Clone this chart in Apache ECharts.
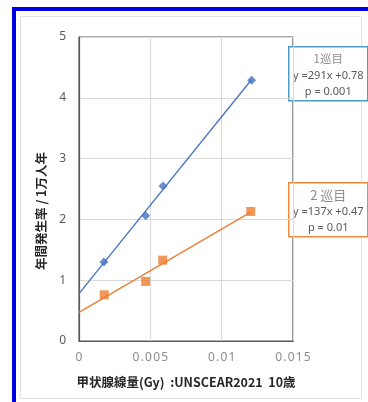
<!DOCTYPE html>
<html>
<head>
<meta charset="utf-8">
<script src="https://cdn.jsdelivr.net/npm/echarts@6/dist/echarts.min.js"></script>
<style>
  html, body { margin: 0; padding: 0; background: #fff; }
  #chart { width: 368px; height: 402px; }
</style>
</head>
<body>
<div id="chart"></div>
<script>
// Thyroid dose (Gy) vs. annual incidence per 10,000 person-years
const round1Dose = [0.00175, 0.00467, 0.00589, 0.0121];
const round1Rate = [1.30, 2.06, 2.55, 4.29];
const round2Dose = [0.00177, 0.00467, 0.00587, 0.01204];
const round2Rate = [0.76, 0.98, 1.33, 2.13];

// Regression results shown in the boxes
const fitSlope = [291, 137];
const fitIntercept = [0.78, 0.47];
const fitP = ['0.001', '0.01'];
const roundNames = ['1巡目', '2 巡目'];

const xTicks = ['0', '0.005', '0.01', '0.015'];
const yTicks = [0, 1, 2, 3, 4, 5];

const blue = '#4472C4';
const orange = '#ED7D31';
const cjk = '"Noto Sans CJK JP", "Noto Sans", sans-serif';
const latin = '"Noto Sans", "Noto Sans CJK JP", sans-serif';

function pairs(xs, ys) { return xs.map((x, i) => [x, ys[i]]); }
function fitLine(k, xs) {
  const xEnd = Math.max.apply(null, xs);
  return [[0, fitIntercept[k]], [xEnd, fitSlope[k] * xEnd + fitIntercept[k]]];
}

function infoBox(k, top, border) {
  const left = 288, w = 79, h = 54;
  return {
    type: 'group',
    left: left, top: top,
    children: [
      { type: 'rect', shape: { x: 0, y: 0, width: w, height: h },
        style: { fill: '#fff', stroke: border, lineWidth: 1.5 } },
      { type: 'text', x: w / 2, y: 12,
        style: { text: roundNames[k], fill: '#8c8c8c', font: (k === 0 ? '11.5px ' : '13px ') + cjk,
                 align: 'center', verticalAlign: 'middle' } },
      { type: 'text', x: w / 2, y: 29,
        style: { text: 'y =' + fitSlope[k] + 'x +' + fitIntercept[k], fill: '#595959', font: '11px ' + latin,
                 align: 'center', verticalAlign: 'middle' } },
      { type: 'text', x: w / 2, y: 45,
        style: { text: 'p = ' + fitP[k], fill: '#595959', font: '11px ' + latin,
                 align: 'center', verticalAlign: 'middle' } }
    ]
  };
}

const chart = echarts.init(document.getElementById('chart'), null, { renderer: 'canvas' });
chart.setOption({
  animation: false,
  backgroundColor: '#fff',
  grid: {
    left: 79, right: 75, top: 37, bottom: 61,
    show: true, borderColor: '#595959', borderWidth: 1.2, backgroundColor: 'transparent'
  },
  xAxis: {
    type: 'value', min: 0, max: 0.015, interval: 0.005,
    axisLine: { show: true, onZero: false, lineStyle: { color: '#595959', width: 1.2 } },
    axisTick: { show: false },
    splitLine: { show: true, lineStyle: { color: '#d9d9d9', width: 1 } },
    axisLabel: {
      color: '#8c8c8c', fontSize: 12, fontFamily: latin, margin: 11,
      formatter: (v) => xTicks[Math.round(v / 0.005)].split('').join('\u200A')
    }
  },
  yAxis: {
    type: 'value', min: yTicks[0], max: yTicks[yTicks.length - 1], interval: 1,
    axisLine: { show: true, lineStyle: { color: '#595959', width: 1.2 } },
    axisTick: { show: false },
    splitLine: { show: true, lineStyle: { color: '#d9d9d9', width: 1 } },
    axisLabel: { color: '#595959', fontSize: 12, fontFamily: latin, margin: 13 }
  },
  series: [
    { type: 'line', data: fitLine(0, round1Dose), symbol: 'none',
      lineStyle: { color: blue, width: 1.3 }, z: 2 },
    { type: 'line', data: fitLine(1, round2Dose), symbol: 'none',
      lineStyle: { color: orange, width: 1.3 }, z: 2 },
    { type: 'scatter', data: pairs(round1Dose, round1Rate), symbol: 'diamond', symbolSize: 9,
      itemStyle: { color: blue }, z: 3 },
    { type: 'scatter', data: pairs(round2Dose, round2Rate), symbol: 'rect', symbolSize: 9,
      itemStyle: { color: orange }, z: 3 }
  ],
  graphic: [
    // outer blue frame and inner light border
    { type: 'rect', silent: true, z: -10,
      shape: { x: 14, y: 9, width: 400, height: 420 },
      style: { fill: 'none', stroke: '#0000E6', lineWidth: 4 } },
    { type: 'rect', silent: true, z: -10,
      shape: { x: 20.5, y: 16.5, width: 341, height: 382 },
      style: { fill: 'none', stroke: '#e2e2e2', lineWidth: 1 } },
    // axis titles
    { type: 'text', x: 41, y: 211, rotation: Math.PI / 2,
      style: { text: '年間発生率 / 1万人年', fill: '#262626', font: 'bold 12.5px ' + cjk,
               align: 'center', verticalAlign: 'middle' } },
    { type: 'text', x: 186, y: 382,
      style: { text: '甲状腺線量(Gy)  :UNSCEAR2021  10歳', fill: '#262626', font: 'bold 12.5px ' + cjk,
               align: 'center', verticalAlign: 'middle' } },
    infoBox(0, 46, '#4a9cc6'),
    infoBox(1, 182, '#EE8A3E')
  ]
});
</script>
</body>
</html>
